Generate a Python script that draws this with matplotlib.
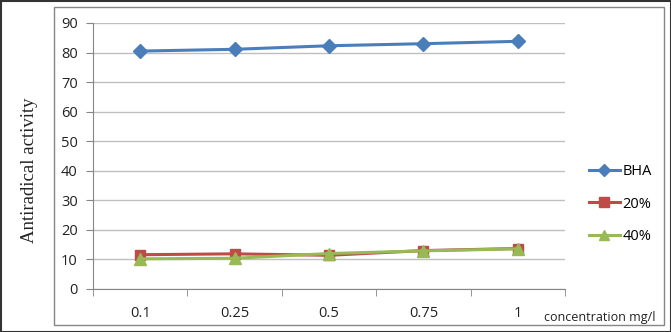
import matplotlib.pyplot as plt
from matplotlib.patches import Rectangle

categories = ['0.1', '0.25', '0.5', '0.75', '1']
bha = [80.5, 81.1, 82.3, 83.0, 83.8]
p20 = [11.6, 11.9, 11.4, 13.0, 13.7]
p40 = [10.2, 10.4, 12.0, 12.9, 13.6]

W, H = 671, 332
fig = plt.figure(figsize=(W / 100, H / 100), dpi=100)
ax = fig.add_axes([93 / W, 1 - 289 / H, (565 - 93) / W, (289 - 23) / H])

x = list(range(len(categories)))
ax.plot(x, bha, color='#4A7EBB', lw=2.2, marker='D', ms=7, label='BHA')
ax.plot(x, p20, color='#BE4B48', lw=2.2, marker='s', ms=7.5, label='20%')
ax.plot(x, p40, color='#98B954', lw=2.2, marker='^', ms=8, label='40%')

ax.set_ylim(0, 90)
ax.set_yticks(range(0, 91, 10))
ax.set_xlim(-0.5, len(categories) - 0.5)
ax.set_xticks(x)
ax.set_xticklabels(categories)
ax.set_xticks([i - 0.5 for i in range(len(categories) + 1)], minor=True)
ax.tick_params(axis='x', which='major', length=0, pad=12)
ax.tick_params(axis='x', which='minor', length=5, color='#868686')
ax.tick_params(axis='y', length=5, color='#868686', pad=6)
for lab in ax.get_xticklabels() + ax.get_yticklabels():
    lab.set_fontsize(10.5)
    lab.set_fontfamily('Open Sans')
    lab.set_color('#222222')
ax.grid(axis='y', color='#BFBFBF', lw=1)
ax.set_axisbelow(True)
for s in ['top', 'right']:
    ax.spines[s].set_visible(False)
for s in ['left', 'bottom']:
    ax.spines[s].set_color('#868686')

fig.text(30 / W, 1 - 170 / H, 'Antiradical activity', rotation=90, ha='center', va='center',
         fontsize=13.5, family='Liberation Serif', color='#222222')
fig.text(655 / W, 1 - 318 / H, 'concentration mg/l', ha='right', va='center',
         fontsize=9, family='Open Sans', color='#222222')

leg = ax.legend(loc='center left', bbox_to_anchor=(576 / W, 1 - 204 / H), bbox_transform=fig.transFigure,
                frameon=False, prop={'family': 'Open Sans', 'size': 10.5}, handlelength=2.1,
                labelspacing=1.2, handletextpad=0.2, markerscale=0.9)

fig.patches.append(Rectangle((54 / W, 1 - 325 / H), (664 - 54) / W, (325 - 7) / H,
                             transform=fig.transFigure, fill=False, ec='#868686', lw=1))
fig.patches.append(Rectangle((0.5 / W, 0.5 / H), 1 - 1 / W, 1 - 1 / H,
                             transform=fig.transFigure, fill=False, ec='#333333', lw=1.5))

fig.savefig('out.png', dpi=100)
